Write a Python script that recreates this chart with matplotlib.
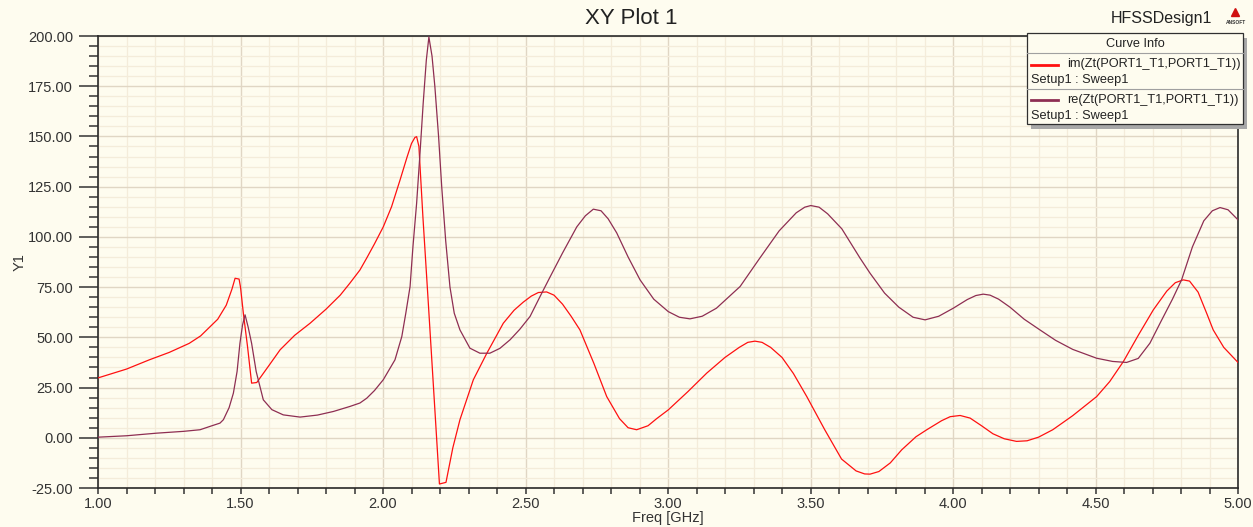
import matplotlib.pyplot as plt
from matplotlib.lines import Line2D
from matplotlib.patches import Rectangle
from matplotlib.ticker import MultipleLocator, FormatStrFormatter

plt.rcParams['font.family'] = ['Liberation Sans', 'DejaVu Sans']

# im(Zt) trace
freq_im = [1.00, 1.10, 1.18, 1.25, 1.32, 1.36, 1.42, 1.45, 1.47, 1.481, 1.495, 1.50, 1.51, 1.525,
           1.539, 1.557, 1.60, 1.639, 1.69, 1.744, 1.80, 1.85, 1.884, 1.919, 1.943, 1.97, 2.001,
           2.03, 2.06, 2.085, 2.10, 2.112, 2.118, 2.126, 2.14, 2.159, 2.177, 2.198, 2.221, 2.245,
           2.27, 2.317, 2.364, 2.422, 2.46, 2.492, 2.52, 2.545, 2.574, 2.60, 2.63, 2.66, 2.691,
           2.74, 2.785, 2.83, 2.86, 2.89, 2.93, 2.96, 3.001, 3.07, 3.136, 3.20, 3.25, 3.28,
           3.305, 3.33, 3.36, 3.40, 3.44, 3.487, 3.55, 3.609, 3.66, 3.69, 3.709, 3.74, 3.78,
           3.82, 3.87, 3.908, 3.96, 3.99, 4.025, 4.06, 4.10, 4.14, 4.18, 4.223, 4.26, 4.30,
           4.35, 4.42, 4.504, 4.55, 4.598, 4.65, 4.703, 4.75, 4.78, 4.808, 4.83, 4.86, 4.89,
           4.913, 4.95, 5.00]
im_zt = [29.8, 34.2, 38.8, 42.5, 47.0, 50.7, 59.0, 66.0, 74.0, 79.4, 79.0, 75.0, 62.0, 45.0,
         27.2, 27.5, 36.0, 43.8, 51.0, 57.0, 64.0, 71.0, 77.0, 83.5, 89.5, 96.5, 105.0,
         115.0, 128.4, 140.0, 146.5, 149.5, 149.9, 145.0, 110.0, 67.0, 25.5, -23.0, -22.2, -5.0,
         9.0, 28.9, 42.0, 57.0, 63.5, 67.5, 70.5, 72.3, 72.6, 71.0, 66.5, 60.5, 53.7,
         37.0, 20.5, 9.5, 5.0, 4.0, 6.0, 9.5, 13.9, 23.0, 32.2, 40.0, 45.0, 47.5,
         48.1, 47.5, 45.0, 40.0, 32.0, 20.5, 4.0, -10.6, -16.5, -18.0, -18.1, -16.8, -12.5,
         -6.0, 0.5, 4.0, 8.5, 10.5, 11.1, 9.8, 6.0, 2.0, -0.5, -1.8, -1.5, 0.3,
         4.0, 11.0, 20.5, 28.0, 38.0, 51.0, 63.7, 73.0, 77.2, 78.6, 78.0, 72.5, 62.0,
         53.7, 45.0, 37.5]

# re(Zt) trace
freq_re = [1.00, 1.10, 1.206, 1.30, 1.358, 1.40, 1.428, 1.44, 1.46, 1.475, 1.488, 1.498, 1.507,
           1.516, 1.527, 1.539, 1.555, 1.58, 1.61, 1.65, 1.709, 1.77, 1.826, 1.884, 1.919,
           1.943, 1.97, 2.001, 2.042, 2.066, 2.08, 2.095, 2.105, 2.118, 2.13, 2.141, 2.152,
           2.161, 2.172, 2.182, 2.195, 2.206, 2.22, 2.235, 2.25, 2.27, 2.305, 2.34, 2.375,
           2.41, 2.446, 2.48, 2.516, 2.551, 2.586, 2.63, 2.68, 2.71, 2.738, 2.765, 2.79, 2.82,
           2.86, 2.902, 2.95, 3.001, 3.04, 3.077, 3.12, 3.17, 3.253, 3.32, 3.39, 3.45, 3.48,
           3.501, 3.53, 3.56, 3.61, 3.674, 3.709, 3.76, 3.81, 3.86, 3.902, 3.95, 4.001, 4.05,
           4.08, 4.106, 4.13, 4.16, 4.20, 4.25, 4.305, 4.36, 4.42, 4.504, 4.56, 4.609, 4.65,
           4.691, 4.73, 4.77, 4.802, 4.84, 4.88, 4.91, 4.937, 4.965, 5.00]
re_zt = [0.3, 1.0, 2.3, 3.2, 4.0, 6.0, 7.3, 9.0, 15.0, 22.2, 33.0, 47.0, 56.0,
         61.2, 55.0, 47.0, 33.0, 18.9, 14.0, 11.4, 10.3, 11.3, 13.1, 15.6, 17.3,
         19.7, 23.5, 28.9, 38.8, 50.4, 62.0, 75.3, 95.0, 116.8, 142.0, 166.5, 188.0,
         199.5, 190.0, 174.8, 150.0, 125.0, 98.0, 75.0, 62.0, 53.7, 44.6, 42.1, 42.1,
         44.5, 48.8, 54.0, 60.4, 70.3, 80.0, 92.0, 105.0, 110.5, 113.8, 113.0, 109.0, 102.0,
         90.0, 78.6, 69.0, 62.8, 60.0, 59.2, 60.5, 64.5, 75.3, 89.0, 103.0, 112.0, 114.8,
         115.6, 114.8, 111.5, 104.0, 89.4, 81.9, 72.0, 65.0, 60.0, 58.7, 60.5, 64.5, 68.8,
         70.8, 71.5, 71.0, 69.0, 65.0, 59.0, 53.7, 48.5, 44.0, 39.6, 38.0, 37.5, 39.5,
         47.1, 58.0, 69.0, 78.6, 95.0, 108.0, 113.0, 114.6, 113.5, 108.5]

curve_names = ['im(Zt(PORT1_T1,PORT1_T1))', 're(Zt(PORT1_T1,PORT1_T1))']
setup_name = 'Setup1 : Sweep1'
curve_colors = ['#FF1010', '#8E2E52']

BG = '#FEFCEF'
W, H = 1253, 527


def fx(px):
    return px / W


def fy(py):
    return 1 - py / H


fig = plt.figure(figsize=(W / 100, H / 100), dpi=100, facecolor=BG)
ax = fig.add_axes([fx(98), fy(488), (1238 - 98) / W, (488 - 36) / H])
ax.set_facecolor(BG)

ax.plot(freq_im, im_zt, color=curve_colors[0], linewidth=0.9, zorder=3)
ax.plot(freq_re, re_zt, color=curve_colors[1], linewidth=0.9, zorder=3)

ax.set_xlim(1.0, 5.0)
ax.set_ylim(-25, 200)
ax.xaxis.set_major_locator(MultipleLocator(0.5))
ax.xaxis.set_minor_locator(MultipleLocator(0.1))
ax.yaxis.set_major_locator(MultipleLocator(25))
ax.yaxis.set_minor_locator(MultipleLocator(5))
ax.xaxis.set_major_formatter(FormatStrFormatter('%.2f'))
ax.yaxis.set_major_formatter(FormatStrFormatter('%.2f'))

ax.grid(which='major', color='#E0D6C4', linewidth=1.0, zorder=0)
ax.grid(which='minor', color='#F4ECDA', linewidth=0.9, zorder=0)
ax.set_axisbelow(True)

ax.tick_params(axis='y', which='major', direction='out', length=14, width=1.1,
               pad=4, labelsize=10.5, colors='#333333')
ax.tick_params(axis='y', which='minor', direction='out', length=6.5, width=1.1, colors='#333333')
ax.tick_params(axis='x', which='both', direction='out', length=4, width=1.1,
               pad=2.5, labelsize=10.5, colors='#333333')
for side in ['left', 'bottom', 'right', 'top']:
    ax.spines[side].set_color('#2A2A2A')
    ax.spines[side].set_linewidth(1.2)

ax.set_xlabel('Freq [GHz]', fontsize=10.5, color='#333333')
ax.set_ylabel('Y1', fontsize=10.5, color='#333333')
ax.xaxis.set_label_coords(0.5, -0.051)
ax.yaxis.set_label_coords(-0.0623, 0.5)

fig.text(fx(631), fy(18), 'XY Plot 1', ha='center', va='center', fontsize=16, color='#222222')
fig.text(fx(1212), fy(19), 'HFSSDesign1', ha='right', va='center', fontsize=11.5, color='#222222')

# small vendor mark in the corner
fig.add_artist(Line2D([fx(1235)], [fy(12)], marker='^', markersize=6, color='#D01010',
                      linestyle='none', transform=fig.transFigure))
fig.text(fx(1236), fy(23), 'ANSOFT', ha='center', va='center', fontsize=3.5,
         fontweight='bold', color='#333333')

# curve info box
bx0, bx1, by0, by1 = 1027, 1243, 33, 124
fig.add_artist(Rectangle((fx(bx0 + 4), fy(by1 + 5)), (bx1 - bx0) / W, (by1 - by0) / H,
                         transform=fig.transFigure, facecolor='#A8A8A8', edgecolor='none',
                         zorder=9))
fig.add_artist(Rectangle((fx(bx0), fy(by1)), (bx1 - bx0) / W, (by1 - by0) / H,
                         transform=fig.transFigure, facecolor=BG, edgecolor='#303030',
                         linewidth=0.9, zorder=10))
fig.text(fx((bx0 + bx1) / 2), fy(44), 'Curve Info', ha='center', va='center',
         fontsize=9.2, color='#222222', zorder=11)
for sep in [53, 89]:
    fig.add_artist(Line2D([fx(bx0), fx(bx1)], [fy(sep), fy(sep)], color='#A0A0A0',
                          linewidth=0.8, transform=fig.transFigure, zorder=11))
for i, (name, col) in enumerate(zip(curve_names, curve_colors)):
    row = 64.5 + i * 35.5
    fig.add_artist(Line2D([fx(1031), fx(1058)], [fy(row), fy(row)], color=col,
                          linewidth=2.0, transform=fig.transFigure, zorder=11))
    fig.text(fx(1067), fy(row), name, ha='left', va='center', fontsize=9.2,
             color='#222222', zorder=11)
    fig.text(fx(1031), fy(row + 15.5), setup_name, ha='left', va='center', fontsize=9.2,
             color='#222222', zorder=11)

fig.savefig('out.png', dpi=100, facecolor=BG)
